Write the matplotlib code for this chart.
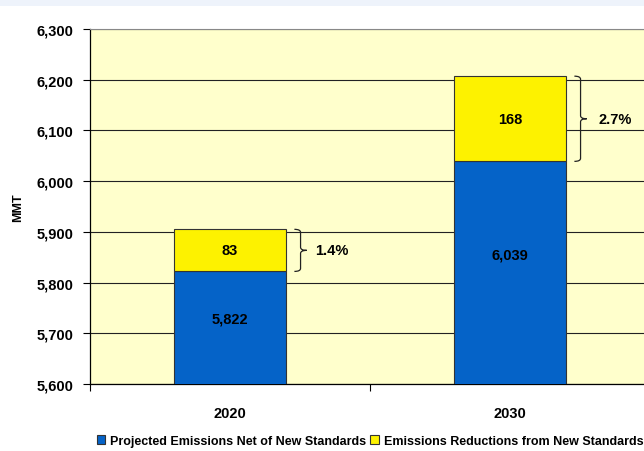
import matplotlib.pyplot as plt
from matplotlib.path import Path
from matplotlib.patches import PathPatch, Rectangle

years = ['2020', '2030']
projected = [5822, 6039]
reductions = [83, 168]
pct_labels = ['1.4%', '2.7%']

plt.rcParams['font.family'] = ['Liberation Sans', 'DejaVu Sans']
plt.rcParams['font.weight'] = 'bold'

blue = '#0563C8'
yellow = '#FDF200'
ymin, ymax = 5600, 6300

fig = plt.figure(figsize=(6.44, 4.52), dpi=100)
fig.patches.append(Rectangle((0, 1 - 7 / 452), 1, 7 / 452, transform=fig.transFigure,
                             facecolor='#EEF3FB', edgecolor='none'))
ax = fig.add_axes([90 / 644, 67 / 452, 560 / 644, 355 / 452])
ax.set_facecolor('#FFFFCC')

x = list(range(len(years)))
w = 0.4
ax.bar(x, projected, w, bottom=0, color=blue, edgecolor='#333333', linewidth=0.8,
       zorder=3, label='Projected Emissions Net of New Standards')
ax.bar(x, reductions, w, bottom=projected, color=yellow, edgecolor='#333333', linewidth=0.8,
       zorder=3, label='Emissions Reductions from New Standards')

ax.set_ylim(ymin, ymax)
ax.set_xlim(-0.5, 1.5)
yt = list(range(ymin, ymax + 1, 100))
ax.set_yticks(yt)
ax.set_yticklabels([f'{v:,}' for v in yt], fontsize=10.5, fontweight='bold')
ax.yaxis.grid(True, color='#222222', linewidth=0.8, zorder=1)
ax.tick_params(axis='y', length=5, width=0.8, direction='out', pad=7)

ax.set_xticks([-0.5, 0.5, 1.5])
ax.set_xticklabels([])
ax.tick_params(axis='x', which='major', length=5, width=0.8, direction='out')
ax.set_xticks(x, minor=True)
ax.set_xticklabels(years, minor=True, fontsize=10.5, fontweight='bold')
ax.tick_params(axis='x', which='minor', length=0, pad=16)

ax.spines['top'].set_color('#888888')
ax.spines['right'].set_visible(False)
for s in ['left', 'bottom']:
    ax.spines[s].set_color('black')
    ax.spines[s].set_linewidth(0.9)

ax.set_ylabel('MMT', fontsize=9, fontweight='bold', labelpad=9)

for i in x:
    ax.text(i, ymin + 0.58 * (projected[i] - ymin), f'{projected[i]:,}', ha='center', va='center',
            fontsize=10.5, fontweight='bold', zorder=4)
    ax.text(i, projected[i] + reductions[i] / 2, f'{reductions[i]}', ha='center', va='center',
            fontsize=10.5, fontweight='bold', zorder=4)

    # curly brace right of bar
    y0 = projected[i]
    y1 = projected[i] + reductions[i]
    ym = (y0 + y1) / 2
    bx = i + w / 2 + 0.03
    bw = 0.022
    r = 6
    verts = [(bx, y0), (bx + bw, y0), (bx + bw, y0 + r), (bx + bw, y0 + r),
             (bx + bw, ym - r), (bx + bw, ym), (bx + 2 * bw, ym),
             (bx + bw, ym), (bx + bw, ym + r),
             (bx + bw, y1 - r), (bx + bw, y1), (bx, y1)]
    codes = [Path.MOVETO, Path.CURVE3, Path.CURVE3, Path.LINETO,
             Path.LINETO, Path.CURVE3, Path.CURVE3,
             Path.CURVE3, Path.CURVE3,
             Path.LINETO, Path.CURVE3, Path.CURVE3]
    ax.add_patch(PathPatch(Path(verts, codes), facecolor='none', edgecolor='#222222',
                           linewidth=0.9, zorder=4, clip_on=False))
    ax.text(i + w / 2 + 0.105 + 0.01 * i, ym, pct_labels[i], ha='left', va='center',
            fontsize=10.5, fontweight='bold', zorder=4)

fig.legend(loc='center', bbox_to_anchor=(370 / 644, 1 - 442 / 452), ncol=2, frameon=False,
           prop={'weight': 'bold', 'size': 9}, handlelength=0.7, handleheight=0.7,
           handletextpad=0.4, columnspacing=0.3, borderpad=0)

fig.savefig('out.png', dpi=100)
